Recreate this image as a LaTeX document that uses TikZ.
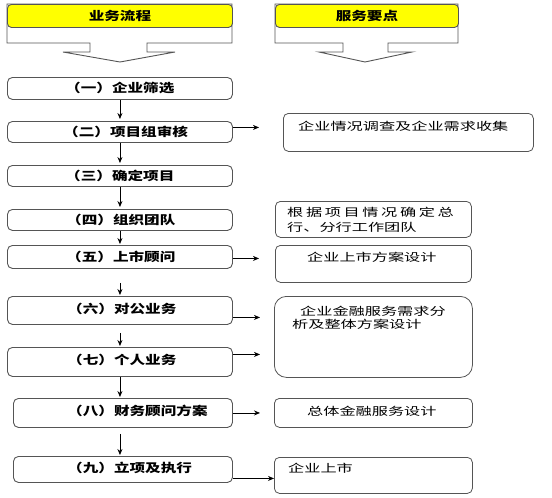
\documentclass[tikz,border=0pt]{standalone}
\usepackage{fontspec}
\newfontfamily\cjk[FakeStretch=1.3]{Noto Sans CJK SC}
\newfontfamily\cjkwide[FakeStretch=1.47]{Noto Sans CJK SC}
\usetikzlibrary{arrows.meta, positioning}
\definecolor{boxline}{RGB}{85,85,85}
\definecolor{headfill}{RGB}{255,255,0}

\begin{document}
\begin{tikzpicture}[x=1pt, y=-1pt,
  flow/.style={draw=boxline, rounded corners=5pt, line width=0.9pt, fill=white, inner sep=0pt, anchor=north west},
  note/.style={flow, line width=0.8pt},
  ftxt/.style={font={\cjk\bfseries\fontsize{12}{14}\selectfont}, anchor=west, inner sep=0pt},
  ntxt/.style={font={\cjkwide\fontsize{11}{13}\selectfont}, anchor=west, inner sep=0pt, align=left},
  head/.style={draw=boxline, fill=headfill, rounded corners=4pt, line width=0.9pt, inner sep=0pt, anchor=north west, font={\cjk\bfseries\fontsize{12}{14}\selectfont}},
  callout/.style={draw=boxline, fill=white, line width=0.9pt},
  arr/.style={-{Stealth[length=6pt, width=5pt]}, line width=0.8pt}
]
\useasboundingbox (0,0) rectangle (552,498);

% Headers
\draw[callout] (7,4) -- (232,4) -- (232,43) -- (147,43) -- (147,52) -- (175,52) -- (120,62)
  -- (63,52) -- (90,52) -- (90,43) -- (7,43) -- cycle;
\node[head, minimum width=225pt, minimum height=23pt] (hd1) at (7,4) {业务流程};

\draw[callout] (275,4) -- (458,4) -- (458,43) -- (388,43) -- (388,52) -- (412,52) -- (365,62)
  -- (319,52) -- (343,52) -- (343,43) -- (275,43) -- cycle;
\node[head, minimum width=183pt, minimum height=23pt] (hd2) at (275,4) {服务要点};

% Process steps
\node[flow, minimum width=225pt, minimum height=22pt] (b1) at (7,77) {};
\node[flow, minimum width=225pt, minimum height=21pt] (b2) at (7,121) {};
\node[flow, minimum width=225pt, minimum height=21pt] (b3) at (7,165) {};
\node[flow, minimum width=225pt, minimum height=21pt] (b4) at (7,209) {};
\node[flow, minimum width=225pt, minimum height=23pt] (b5) at (7,245) {};
\node[flow, minimum width=225pt, minimum height=28pt] (b6) at (7,296) {};
\node[flow, minimum width=225pt, minimum height=29pt] (b7) at (7,347) {};
\node[flow, minimum width=219pt, minimum height=29pt] (b8) at (13,398) {};
\node[flow, minimum width=219pt, minimum height=26pt] (b9) at (13,456) {};

\node[ftxt] (t1) at ([xshift=58pt]b1.west) {（一）企业筛选};
\node[ftxt] (t2) at ([xshift=56pt]b2.west) {（二）项目组审核};
\node[ftxt] (t3) at ([xshift=58pt]b3.west) {（三）确定项目};
\node[ftxt] (t4) at ([xshift=59pt]b4.west) {（四）组织团队};
\node[ftxt] (t5) at ([xshift=59pt]b5.west) {（五）上市顾问};
\node[ftxt] (t6) at ([xshift=60pt,yshift=2pt]b6.west) {（六）对公业务};
\node[ftxt] (t7) at ([xshift=60pt,yshift=2pt]b7.west) {（七）个人业务};
\node[ftxt] (t8) at ([xshift=54pt,yshift=2pt]b8.west) {（八）财务顾问方案};
\node[ftxt] (t9) at ([xshift=54pt,yshift=2pt]b9.west) {（九）立项及执行};

% Service points
\node[note, minimum width=250pt, minimum height=38pt] (r1) at (283,113) {};
\node[note, minimum width=196pt, minimum height=36pt] (r2) at (275,201) {};
\node[note, minimum width=196pt, minimum height=37pt] (r3) at (275,245) {};
\node[note, rounded corners=12pt, minimum width=198pt, minimum height=81pt] (r4) at (274,296) {};
\node[note, minimum width=198pt, minimum height=29pt] (r5) at (274,398) {};
\node[note, minimum width=198pt, minimum height=36pt] (r6) at (274,457) {};

\node[ntxt] (n1) at (298,126) {企业情况调查及企业需求收集};
\node[ntxt, font={\cjkwide\fontsize{11}{15}\selectfont}] (n2) at (287,220)
  {{\addfontfeature{LetterSpace=24}根据项目情况确定总}\\行、分行工作团队};
\node[ntxt] (n3) at (307,257) {企业上市方案设计};
\node[ntxt] (n4) at (292,318) {\hspace*{8pt}企业金融服务需求分\\析及整体方案设计};
\node[ntxt] (n5) at (307,411) {总体金融服务设计};
\node[ntxt] (n6) at (288,468) {企业上市};

% Arrows down
\draw[arr, shorten >=2pt] (b1.south) -- (b1.south |- b2.north);
\draw[arr, shorten >=2pt] (b2.south) -- (b2.south |- b3.north);
\draw[arr, shorten >=2pt] (b3.south) -- (b3.south |- b4.north);
\draw[arr, shorten >=1pt] (b4.south) -- (b4.south |- b5.north);
\draw[arr, shorten <=14pt, shorten >=1pt] (b5.south) -- (b5.south |- b6.north);
\draw[arr, shorten <=8pt, shorten >=1pt] (b6.south) -- (b6.south |- b7.north);
\draw[arr, shorten >=1pt] (b7.south) -- (b7.south |- b8.north);
\draw[arr, shorten <=6pt, shorten >=1pt] (b8.south -| b7.south) -- (b7.south |- b9.north);

% Arrows right
\coordinate (s2) at ([yshift=4.5pt]b2.east);
\coordinate (s5) at ([yshift=-1.5pt]b5.east);
\coordinate (s6) at ([yshift=-7pt]b6.east);
\coordinate (s7) at ([yshift=7.5pt]b7.east);
\coordinate (s8) at (b8.east);
\coordinate (s9) at ([yshift=-9pt]b9.east);
\draw[arr, shorten >=24pt] (s2) -- (s2 -| r1.west);
\draw[arr, shorten >=16pt] (s5) -- (s5 -| r3.west);
\draw[arr, shorten >=14pt] (s6) -- (s6 -| r4.west);
\draw[arr, shorten >=14pt] (s7) -- (s7 -| r4.west);
\draw[arr, shorten >=14pt] (s8) -- (s8 -| r5.west);
\draw[arr] (s9) -- (s9 -| r6.west);

\end{tikzpicture}
\end{document}
